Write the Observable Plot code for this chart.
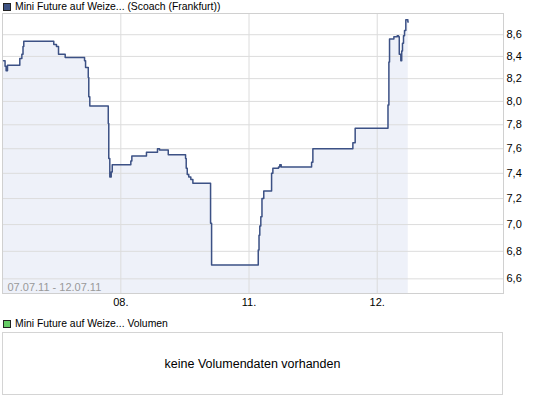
<!DOCTYPE html>
<html><head><meta charset="utf-8">
<script src="https://cdn.jsdelivr.net/npm/d3@7"></script>
<script src="https://cdn.jsdelivr.net/npm/@observablehq/plot@0.6"></script>
<style>
body{margin:0;background:#fff;font-family:"Liberation Sans",Arial,sans-serif;}
#wrap{position:relative;width:545px;height:398px;overflow:hidden;background:#fff}
.leg{position:absolute;left:15px;font-size:10.4px;line-height:13px;color:#000;white-space:nowrap}
.sq{position:absolute;left:3px;width:6px;height:6px;border:1px solid #222}
#chart{position:absolute;left:0;top:12px}
#vol{position:absolute;left:2px;top:332px;width:499px;height:61px;border:1px solid #d4d4d4;display:flex;align-items:center;justify-content:center;font-size:12.5px;color:#000}
</style></head>
<body><div id="wrap">
<div class="sq" style="top:3px;background:#3d5283"></div>
<div class="leg" id="t1" style="top:0px"></div>
<div id="chart"></div>
<div class="sq" style="top:320px;background:#66cc66"></div>
<div class="leg" id="t2" style="top:317px"></div>
<div id="vol"></div>
</div>
<script>
const titleMain = "Mini Future auf Weize... (Scoach (Frankfurt))";
const titleVol = "Mini Future auf Weize... Volumen";
const noVolume = "keine Volumendaten vorhanden";
const dateRange = "07.07.11 - 12.07.11";

// trading-session position (days since 07.07 open; 08. = 1, 11. = 2, 12. = 3)
const tValues = [0.085,0.097,0.105,0.116,0.212,0.228,0.237,0.243,0.477,0.498,0.514,0.566,0.717,0.725,0.746,0.750,0.758,0.902,0.906,0.914,0.925,0.933,1.078,1.086,1.200,1.286,1.302,1.370,1.505,1.510,1.518,1.530,1.546,1.562,1.700,1.708,2.072,2.078,2.084,2.092,2.101,2.115,2.176,2.186,2.230,2.240,2.251,2.488,2.498,2.810,2.828,3.084,3.091,3.096,3.130,3.148,3.156,3.166,3.172,3.184,3.191,3.197,3.205,3.213,3.223,3.239,3.242];
const prices = [8.36,8.31,8.27,8.32,8.38,8.42,8.49,8.54,8.51,8.49,8.42,8.39,8.36,8.30,8.21,8.04,7.96,7.81,7.52,7.37,7.41,7.47,7.50,7.54,7.57,7.60,7.59,7.55,7.52,7.44,7.39,7.37,7.35,7.32,7.01,6.70,6.81,6.92,6.99,7.06,7.20,7.26,7.40,7.44,7.45,7.47,7.45,7.49,7.60,7.65,7.77,7.97,8.35,8.56,8.58,8.58,8.59,8.58,8.42,8.36,8.45,8.52,8.59,8.64,8.74,8.72,8.72];

const xTicks = [1, 2, 3];
const xTickLabels = ["08.", "11.", "12."];
const xDomain = [0.077, 3.985];
const yTicks = [6.6, 6.8, 7.0, 7.2, 7.4, 7.6, 7.8, 8.0, 8.2, 8.4, 8.6];
const yDomain = [6.496, 8.80];

const data = tValues.map((t, i) => ({t, v: prices[i]}));
const fmtY = d => d.toFixed(1).replace(".", ",");

document.getElementById("t1").textContent = titleMain;
document.getElementById("t2").textContent = titleVol;
document.getElementById("vol").textContent = noVolume;

const chart = Plot.plot({
  width: 545, height: 300,
  marginTop: 1, marginBottom: 19, marginLeft: 2, marginRight: 42,
  style: {fontFamily: "Liberation Sans, Arial, sans-serif", fontSize: "11px", color: "#000", background: "transparent", overflow: "visible"},
  x: {domain: xDomain, ticks: xTicks, tickFormat: d => xTickLabels[xTicks.indexOf(d)], tickSize: 0, tickPadding: 5, label: null},
  y: {type: "log", domain: yDomain, axis: null},
  marks: [
    Plot.areaY(data, {x: "t", y1: yDomain[0], y2: "v", curve: "step-after", fill: "#eef1f9"}),
    Plot.ruleX(xTicks, {x: d => d, stroke: "#dcdcdc"}),
    Plot.ruleY(yTicks, {y: d => d, stroke: "#dcdcdc"}),
    Plot.frame({stroke: "#d0d0d0"}),
    Plot.text(yTicks, {y: d => d, text: fmtY, frameAnchor: "right", textAnchor: "start", dx: 3, fill: "#000", fontSize: 11}),
    Plot.text([dateRange], {frameAnchor: "bottom-left", dx: 5, dy: -6, lineAnchor: "middle", textAnchor: "start", fill: "#999", fontSize: 11}),
    Plot.line(data, {x: "t", y: "v", curve: "step-after", stroke: "#3c5185", strokeWidth: 1.5})
  ]
});
document.getElementById("chart").appendChild(chart);
</script>
</body></html>
